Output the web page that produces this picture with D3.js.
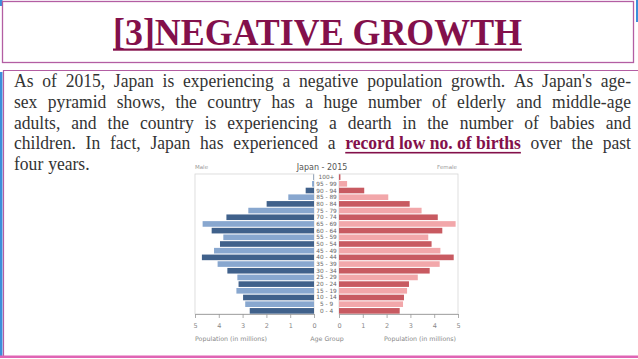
<!DOCTYPE html>
<html>
<head>
<meta charset="utf-8">
<script src="https://cdn.jsdelivr.net/npm/d3@7"></script>
<style>
html,body{margin:0;padding:0;background:#fff;}
svg{display:block;}
</style>
</head>
<body>
<svg id="c" width="638" height="359"></svg>
<script>
// ---- data ----
const titleText = "[3]NEGATIVE GROWTH";
const bodyLines = [
  ["As of 2015, Japan is experiencing a negative population growth. As Japan's age-"],
  ["sex pyramid shows, the country has a huge number of elderly and middle-age"],
  ["adults, and the country is experiencing a dearth in the number of babies and"],
  ["children. In fact, Japan has experienced a", "*record low no. of births", "over the past"],
  ["four years."]
];
const ageGroups = ["0 - 4","5 - 9","10 - 14","15 - 19","20 - 24","25 - 29","30 - 34","35 - 39","40 - 44","45 - 49","50 - 54","55 - 59","60 - 64","65 - 69","70 - 74","75 - 79","80 - 84","85 - 89","90 - 94","95 - 99","100+"];
const maleValues   = [2.70,2.89,2.98,3.26,3.17,3.22,3.64,4.05,4.71,4.20,3.95,3.81,4.30,4.68,3.68,2.76,1.99,1.08,0.35,0.08,0.02];
const femaleValues = [2.55,2.69,2.73,2.86,2.94,3.31,3.81,4.23,4.82,4.26,3.89,3.75,4.34,4.90,4.15,3.47,2.97,2.07,1.06,0.34,0.06];
const popTicks = [0,1,2,3,4,5];
const chartTitle = "Japan - 2015";
const leftLabel = "Male", rightLabel = "Female";
const xAxisLabel = "Population (in millions)", midAxisLabel = "Age Group";

// ---- slide frame ----
const svg = d3.select("#c");
const maroon = "#83104b";
const boxCol = "#b35ea3";

svg.append("rect").attr("x",0).attr("y",0).attr("width",2.5).attr("height",6).attr("fill","#3b8fdb");
svg.append("rect").attr("x",0).attr("y",72).attr("width",2.5).attr("height",284).attr("fill","#3b8fdb");
svg.append("rect").attr("x",636).attr("y",0).attr("width",2).attr("height",22).attr("fill","#3b8fdb");
svg.append("rect").attr("x",2.5).attr("y",1.5).attr("width",631).attr("height",61)
   .attr("fill","none").attr("stroke",boxCol).attr("stroke-width",1.3);
svg.append("path").attr("d","M3.5,356 L3.5,70.5 L638,70.5")
   .attr("fill","none").attr("stroke",boxCol).attr("stroke-width",1.2);
svg.append("rect").attr("x",0).attr("y",355.5).attr("width",638).attr("height",2.5).attr("fill","#e064b4");

// ---- title ----
const tX0 = 113, tX1 = 522;
svg.append("text").attr("x",tX0).attr("y",45)
  .attr("font-family","'Liberation Serif','Times New Roman',serif")
  .attr("font-weight","bold").attr("font-size",38).attr("fill",maroon)
  .attr("textLength",tX1-tX0).attr("lengthAdjust","spacingAndGlyphs")
  .text(titleText);
svg.append("rect").attr("x",tX0).attr("y",48.5).attr("width",tX1-tX0).attr("height",2.2).attr("fill",maroon);

// ---- body (justified, slightly condensed) ----
const bx0 = 14, bx1 = 631, by0 = 87, lh = 20.8, sx = 0.9;
const bodyFont = "'Liberation Serif','Times New Roman',serif";
bodyLines.forEach((segs, li) => {
  const tokens = [];
  segs.forEach(s => {
    if (s.startsWith("*")) tokens.push({t:s.slice(1), em:true});
    else s.split(" ").forEach(w => tokens.push({t:w, em:false}));
  });
  const yy = by0 + li*lh;
  const lg = svg.append("g").attr("transform",`translate(${bx0},${yy}) scale(${sx},1)`);
  const txt = lg.append("text").attr("y",0).attr("font-family",bodyFont)
     .attr("font-size",19.5).attr("fill","#333");
  const spans = tokens.map(tok => txt.append("tspan").attr("x",0).text(tok.t)
      .attr("font-weight",tok.em?"bold":null).attr("fill",tok.em?maroon:null));
  const widths = spans.map(s => s.node().getComputedTextLength());
  const total = d3.sum(widths);
  const justify = li < bodyLines.length-1;
  const avail = (bx1-bx0)/sx;
  const gap = justify ? (avail-total)/(tokens.length-1) : 5.5;
  let x = 0;
  spans.forEach((s,i) => {
    s.attr("x",x);
    if (tokens[i].em) lg.append("rect").attr("x",x).attr("y",2.5).attr("width",widths[i]).attr("height",1.6).attr("fill",maroon);
    x += widths[i] + gap;
  });
});

// ---- pyramid ----
const pTop = 174, pBottom = 314;
const yScale = d3.scaleBand().domain(ageGroups.slice().reverse()).range([pTop,pBottom]).paddingInner(0.16).paddingOuter(0.05);
const xm = d3.scaleLinear().domain([0,5]).range([314,195]);
const xf = d3.scaleLinear().domain([0,5]).range([339,458]);
const maleCol = ["#40618b","#88a7cf"], femCol = ["#c85a61","#f2a7aa"];
const sans = "'DejaVu Sans','Noto Sans',sans-serif";

const g = svg.append("g");
g.append("rect").attr("x",195).attr("y",pTop).attr("width",314-195).attr("height",pBottom-pTop)
  .attr("fill","none").attr("stroke","#d6d6d6").attr("stroke-width",0.8);
g.append("rect").attr("x",339).attr("y",pTop).attr("width",458-339).attr("height",pBottom-pTop)
  .attr("fill","none").attr("stroke","#d6d6d6").attr("stroke-width",0.8);

const rows = ageGroups.map((a,i)=>({a,i,m:maleValues[i],f:femaleValues[i]}));
g.selectAll(".mb").data(rows).join("rect").attr("class","mb")
  .attr("x",d=>xm(d.m)).attr("y",d=>yScale(d.a)).attr("width",d=>xm(0)-xm(d.m)).attr("height",yScale.bandwidth())
  .attr("fill",d=>maleCol[d.i%2]);
g.selectAll(".fb").data(rows).join("rect").attr("class","fb")
  .attr("x",xf(0)).attr("y",d=>yScale(d.a)).attr("width",d=>xf(d.f)-xf(0)).attr("height",yScale.bandwidth())
  .attr("fill",d=>femCol[d.i%2]);
g.selectAll(".al").data(rows).join("text").attr("class","al")
  .attr("x",326.5).attr("y",d=>yScale(d.a)+yScale.bandwidth()/2+2).attr("text-anchor","middle")
  .attr("font-family",sans).attr("font-size",5.8).attr("fill","#666").text(d=>d.a);

function styleAxis(sel){
  sel.selectAll("path,line").attr("stroke","#999").attr("stroke-width",0.8);
  sel.selectAll("text").attr("font-family",sans).attr("font-size",6.5).attr("fill","#888");
}
const fmt = d3.format("d");
g.append("g").attr("transform",`translate(0,${pBottom})`)
  .call(d3.axisBottom(xm).tickValues(popTicks).tickFormat(fmt).tickSize(4).tickPadding(5).tickSizeOuter(0)).call(styleAxis);
g.append("g").attr("transform",`translate(0,${pBottom})`)
  .call(d3.axisBottom(xf).tickValues(popTicks).tickFormat(fmt).tickSize(4).tickPadding(5).tickSizeOuter(0)).call(styleAxis);

const lab = (t,x,yy,anchor,size,col) => g.append("text").attr("x",x).attr("y",yy).attr("text-anchor",anchor)
   .attr("font-family",sans).attr("font-size",size).attr("fill",col).text(t);
lab(leftLabel,195,169,"start",5.5,"#999");
lab(rightLabel,457,169,"end",5.5,"#999");
lab(chartTitle,322,170,"middle",8,"#555");
lab(xAxisLabel,195,341,"start",6.3,"#888");
lab(xAxisLabel,456,341,"end",6.3,"#888");
lab(midAxisLabel,327,341,"middle",6.3,"#888");
</script>
</body>
</html>
